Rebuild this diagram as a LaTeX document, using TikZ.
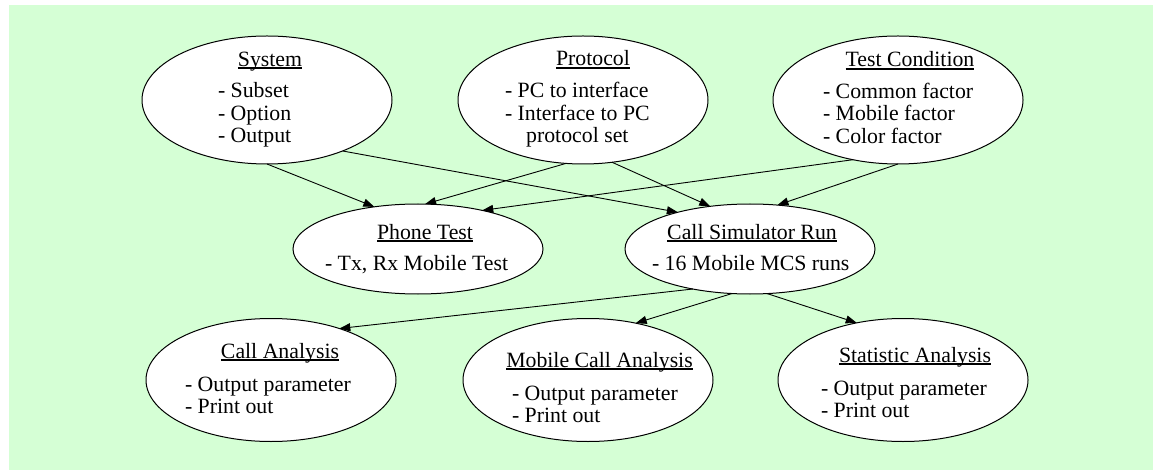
\documentclass[tikz,border=0pt]{standalone}
\usepackage{fontspec}
\setmainfont{Liberation Serif}
\usetikzlibrary{shapes.geometric,arrows.meta}
\definecolor{bggreen}{RGB}{213,255,213}
% word-processor style underline: close to the baseline, crossing descenders
\newcommand{\ulin}[1]{\setbox0=\hbox{#1}\rlap{\rule[-2.8pt]{\wd0}{1.8pt}}\box0}
\newcommand{\lines}[1]{\begin{tabular}[t]{@{}l@{}}#1\end{tabular}}
\tikzset{
  oval/.style={ellipse, draw=black, line width=1pt, fill=white, inner sep=0pt, outer sep=0pt},
  topoval/.style={oval, minimum width=250pt, minimum height=128pt},
  midoval/.style={oval, minimum width=250pt, minimum height=90pt},
  lowoval/.style={oval, minimum width=250pt, minimum height=123pt},
  txt/.style={inner sep=0pt, outer sep=0pt, font=\fontsize{21.8}{22.5}\selectfont},
  title/.style={txt, anchor=base},
  items/.style={txt, anchor=base west},
  link/.style={draw=black, line width=0.9pt, -{Triangle[length=11pt,width=8pt]}},
}
\begin{document}
\begin{tikzpicture}[x=1pt,y=-1pt]
\useasboundingbox (0,0) rectangle (1153,470);
\fill[bggreen] (9,5) rectangle (1153,470);

% top row: inputs
\node[topoval] (sys)  at (267,100) {};
\node[topoval] (prot) at (583,100) {};
\node[topoval] (cond) at (898,100) {};
% middle row: runs
\node[midoval] (phone) at (418,249) {};
\node[midoval] (sim)   at (750,249) {};
% bottom row: analyses
\node[lowoval] (call) at (271,380) {};
\node[lowoval] (mob)  at (588,380) {};
\node[lowoval] (stat) at (903,380) {};

% labels
\node[title] (sysT) at (270,66.5) {\ulin{System}};
\node[items] (sysL) at (218,98) {\lines{- Subset\\- Option\\- Output}};

\node[title] (protT) at (593,66) {\ulin{Protocol}};
\node[items] (protL) at (505,98) {\lines{- PC to interface\\- Interface to PC\\\multicolumn{1}{@{}c@{}}{protocol set}}};

\node[title] (condT) at (910,67) {\ulin{Test Condition}};
\node[items] (condL) at (823,98.5) {\lines{- Common factor\\- Mobile factor\\- Color factor}};

\node[title] (phoneT) at (425,239.3) {\ulin{Phone Test}};
\node[items] (phoneL) at (325,270.7) {- Tx, Rx Mobile Test};

\node[title] (simT) at (752,239.3) {\ulin{Call Simulator Run}};
\node[items] (simL) at (652,270.7) {- 16 Mobile MCS runs};

\node[title] (callT) at (280,358.3) {\ulin{Call Analysis}};
\node[items] (callL) at (185,391) {\lines{- Output parameter\\- Print out}};

\node[title] (mobT) at (599.5,367.3) {\ulin{Mobile Call Analysis}};
\node[items] (mobL) at (512,400) {\lines{- Output parameter\\- Print out}};

\node[title] (statT) at (915,362.3) {\ulin{Statistic Analysis}};
\node[items] (statL) at (821,395) {\lines{- Output parameter\\- Print out}};

% connectors
\draw[link] (sys.-90)     -- (phone.136.8);
\draw[link] (sys.-34.1)   -- (sim.153.9);
\draw[link] (prot.-105.4) -- (phone.81.5);
\draw[link] (prot.-65.8)  -- (sim.133.7);
\draw[link] (cond.-127.5) -- (phone.31.7);
\draw[link] (cond.-90)    -- (sim.58.5);
\draw[link] (sim.-145.7)  -- (call.37.7);
\draw[link] (sim.-112.6)  -- (mob.50.9);
\draw[link] (sim.-69.3)   -- (stat.129.5);
\end{tikzpicture}
\end{document}
